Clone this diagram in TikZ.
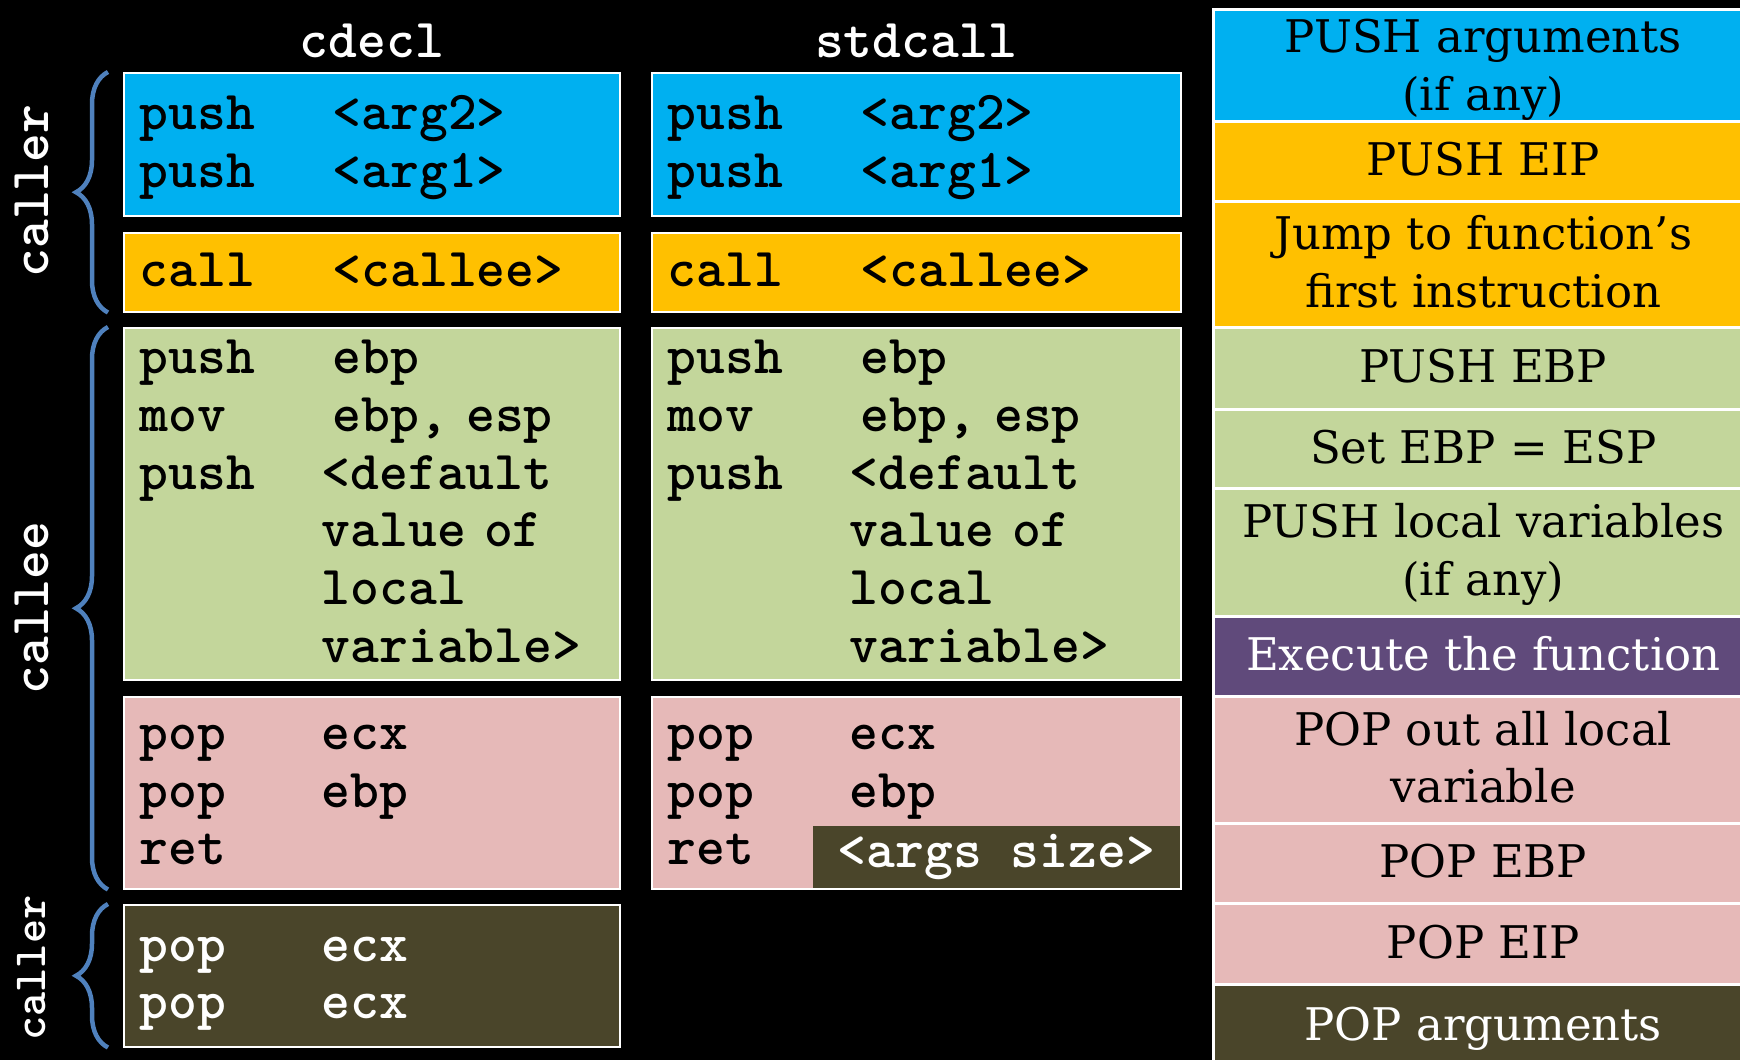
\documentclass[tikz,border=0pt]{standalone}
\usepackage{fontspec}
\setmainfont{DejaVu Serif}
\usetikzlibrary{positioning}
\usetikzlibrary{decorations.pathreplacing}

\definecolor{argblue}{RGB}{0,176,240}
\definecolor{callorange}{RGB}{255,192,0}
\definecolor{prologgreen}{RGB}{195,214,155}
\definecolor{epilogpink}{RGB}{230,185,184}
\definecolor{cleanolive}{RGB}{74,69,42}
\definecolor{execpurple}{RGB}{96,74,123}
\definecolor{bracketblue}{RGB}{79,129,189}

% every text line gets the same line box
\newcommand{\linestrut}{\rule[-14.5pt]{0pt}{57.7pt}}
% one instruction: mnemonic in a fixed column, then the operand
\newcommand{\ins}[3][182pt]{\linestrut\makebox[#1][l]{#2}#3}

\tikzset{
  code_font/.style={font=\ttfamily\bfseries\fontsize{54.9}{57.7}\selectfont},
  code_box/.style={rectangle, draw=white, line width=1.5pt, anchor=north west, inner xsep=16pt, inner ysep=0pt, align=left, code_font},
  cdecl_col/.style={text width=464pt},
  stdcall_col/.style={text width=497pt},
  args_box/.style={rectangle, fill=cleanolive, text=white, anchor=south east, minimum width=367pt, minimum height=62pt, inner sep=0pt, code_font},
  step_row/.style={rectangle, draw=white, line width=2.5pt, anchor=north west, minimum width=540pt, inner sep=0pt, align=center, font=\fontsize{45}{57.7}\selectfont},
  title_text/.style={text=white, code_font},
  side_text/.style={text=white, rotate=90, code_font},
  side_brace/.style={decorate, decoration={brace, amplitude=32pt}, line width=4.5pt, color=bracketblue}
}

\begin{document}
\begin{tikzpicture}[x=1pt, y=-1pt]

\useasboundingbox (0,0) rectangle (1740,1060);
\clip (0,0) rectangle (1740,1060);
\fill[black] (0,0) rectangle (1740,1060);

%%% titles
\node[title_text] at (372,41) (cdecl_title) {cdecl};
\node[title_text] at (916,41) (stdcall_title) {stdcall};

%%% cdecl column
\node[code_box, cdecl_col, fill=argblue, minimum height=143pt] at (123,72) (cd_args) {\ins[193pt]{push}{<arg2>}\\\ins[193pt]{push}{<arg1>}};
\node[code_box, cdecl_col, fill=callorange, minimum height=79pt] at (123,232) (cd_call) {\ins[193pt]{call}{<callee>}};
\node[code_box, cdecl_col, fill=prologgreen, minimum height=352pt] at (123,327) (cd_prolog) {\ins[193pt]{push}{ebp}\\\ins[193pt]{mov}{ebp, esp}\\\ins{push}{<default}\\\ins{}{value of}\\\ins{}{local}\\\ins{}{variable>}};
\node[code_box, cdecl_col, fill=epilogpink, minimum height=192pt] at (123,696) (cd_epilog) {\ins{pop}{ecx}\\\ins{pop}{ebp}\\\ins{ret}{}};
\node[code_box, cdecl_col, fill=cleanolive, text=white, minimum height=142pt] at (123,904) (cd_clean) {\ins{pop}{ecx}\\\ins{pop}{ecx}};

%%% stdcall column
\node[code_box, stdcall_col, fill=argblue, minimum height=143pt] at (651,72) (sd_args) {\ins[193pt]{push}{<arg2>}\\\ins[193pt]{push}{<arg1>}};
\node[code_box, stdcall_col, fill=callorange, minimum height=79pt] at (651,232) (sd_call) {\ins[193pt]{call}{<callee>}};
\node[code_box, stdcall_col, fill=prologgreen, minimum height=352pt] at (651,327) (sd_prolog) {\ins[193pt]{push}{ebp}\\\ins[193pt]{mov}{ebp, esp}\\\ins{push}{<default}\\\ins{}{value of}\\\ins{}{local}\\\ins{}{variable>}};
\node[code_box, stdcall_col, fill=epilogpink, minimum height=192pt] at (651,696) (sd_epilog) {\ins{pop}{ecx}\\\ins{pop}{ebp}\\\ins{ret}{}};
\node[args_box, xshift=-1.5pt, yshift=1.5pt] at (sd_epilog.south east) (sd_argsize) {<args size>};

%%% braces and side labels
\draw[side_brace] ([xshift=-15pt]cd_call.south west) -- ([xshift=-15pt]cd_args.north west);
\draw[side_brace] ([xshift=-15pt]cd_epilog.south west) -- ([xshift=-15pt]cd_prolog.north west);
\draw[side_brace] ([xshift=-15pt]cd_clean.south west) -- ([xshift=-15pt]cd_clean.north west);
\node[side_text] at (32,191) (caller_top) {caller};
\node[side_text] at (32,608) (callee_mid) {callee};
\node[side_text, font=\ttfamily\bfseries\fontsize{46}{49}\selectfont] at (32,968) (caller_bottom) {caller};

%%% step column
\node[step_row, fill=argblue, minimum height=112pt] at (1212,8) (push_args) {\linestrut PUSH arguments\\\linestrut(if any)};
\node[step_row, fill=callorange, minimum height=80pt] at (1212,120) (push_eip) {\linestrut PUSH EIP};
\node[step_row, fill=callorange, minimum height=126pt] at (1212,200) (jump_first) {\linestrut Jump to function’s\\\linestrut first instruction};
\node[step_row, fill=prologgreen, minimum height=82pt] at (1212,326) (push_ebp) {\linestrut PUSH EBP};
\node[step_row, fill=prologgreen, minimum height=79pt] at (1212,408) (set_ebp) {\linestrut Set EBP = ESP};
\node[step_row, fill=prologgreen, minimum height=128pt] at (1212,487) (push_locals) {\linestrut PUSH local variables\\\linestrut(if any)};
\node[step_row, fill=execpurple, text=white, minimum height=80pt] at (1212,615) (exec_func) {\linestrut Execute the function};
\node[step_row, fill=epilogpink, minimum height=127pt] at (1212,695) (pop_locals) {\linestrut POP out all local\\\linestrut variable};
\node[step_row, fill=epilogpink, minimum height=80pt] at (1212,822) (pop_ebp) {\linestrut POP EBP};
\node[step_row, fill=epilogpink, minimum height=81pt] at (1212,902) (pop_eip) {\linestrut POP EIP};
\node[step_row, fill=cleanolive, text=white, minimum height=84pt] at (1212,983) (pop_args) {\linestrut POP arguments};

\end{tikzpicture}
\end{document}
